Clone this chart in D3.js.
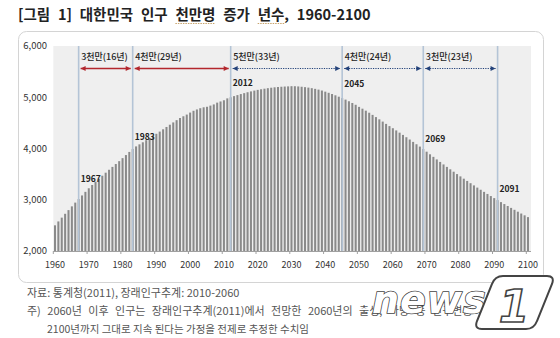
<!DOCTYPE html>
<html>
<head>
<meta charset="utf-8">
<script src="https://cdn.jsdelivr.net/npm/d3@7"></script>
<style>
  html, body { margin: 0; padding: 0; background: #fff; }
  svg { display: block; }
</style>
</head>
<body>
<svg id="chart" width="560" height="338"></svg>
<script>
// Population of Korea, 1960-2100 (unit: 10,000 persons)
const years = d3.range(1960, 2101);
const population = [
  2501, 2577, 2651, 2726, 2798, 2871, 2944, 3013, 3084, 3154,
  3224, 3288, 3351, 3410, 3469, 3528, 3585, 3641, 3697, 3753,
  3812, 3872, 3933, 3991, 4041, 4081, 4121, 4162, 4203, 4245,
  4287, 4330, 4375, 4420, 4464, 4509, 4553, 4595, 4629, 4662,
  4701, 4736, 4762, 4786, 4804, 4814, 4837, 4860, 4895, 4918,
  4941, 4978, 5000, 5022, 5042, 5062, 5080, 5098, 5114, 5130,
  5144, 5156, 5167, 5177, 5186, 5194, 5200, 5205, 5209, 5212,
  5216, 5215, 5211, 5205, 5197, 5188, 5177, 5164, 5149, 5131,
  5109, 5087, 5063, 5038, 5011, 4983, 4954, 4922, 4888, 4853,
  4812, 4777, 4738, 4698, 4656, 4613, 4569, 4525, 4480, 4437,
  4396, 4353, 4309, 4265, 4220, 4175, 4129, 4083, 4037, 3990,
  3938, 3887, 3837, 3787, 3738, 3689, 3641, 3594, 3547, 3501,
  3456, 3411, 3367, 3323, 3280, 3237, 3195, 3154, 3113, 3072,
  3032, 2993, 2954, 2916, 2878, 2841, 2804, 2767, 2731, 2696,
  2661
];

// Years at which the population crosses each ten-million mark
const markerYears = [1967, 1983, 2012, 2045, 2069, 2091];
// Periods spent in each ten-million band
const periodLabels = ["3천만(16년)", "4천만(29년)", "5천만(33년)", "4천만(24년)", "3천만(23년)"];
const periodGrowing = [true, true, false, false, false];

const yTicks = [2000, 3000, 4000, 5000, 6000];
const xTickYears = d3.range(1960, 2101, 10);

const titleText = "[그림 1] 대한민국 인구 천만명 증가 년수, 1960-2100";
const sourceText = "자료: 통계청(2011), 장래인구추계: 2010-2060";
const noteLines = [
  "주) 2060년 이후 인구는 장래인구추계(2011)에서 전망한 2060년의 출생, 사망 등 인구변동 요인이",
  "2100년까지 그대로 지속 된다는 가정을 전제로 추정한 수치임"
];

const svg = d3.select("#chart");
const KR = "'Noto Sans CJK KR', 'Noto Sans', sans-serif";

const plot = { left: 53.3, right: 531, top: 46, bottom: 251 };

const x = d3.scaleBand()
  .domain(years)
  .range([plot.left, plot.left + 141 * 3.3786])
  .paddingInner(0.4)
  .paddingOuter(0.2);
const y = d3.scaleLinear().domain([2000, 6000]).range([plot.bottom, plot.top]);
const cx = yr => x(yr) + x.bandwidth() / 2;

// Title
const title = svg.append("text")
  .attr("x", 18).attr("y", 20)
  .attr("font-family", KR)
  .attr("font-size", 14.5)
  .attr("font-weight", 700)
  .attr("word-spacing", 4.5)
  .attr("fill", "#222")
  .text(titleText);

// Spell-check style underline under two words of the title
const tNode = title.node();
[["천만명", 3], ["년수", 2]].forEach(([w, len]) => {
  const i = titleText.indexOf(w);
  const x0 = tNode.getStartPositionOfChar(i).x;
  const x1 = tNode.getEndPositionOfChar(i + len - 1).x;
  svg.append("line")
    .attr("x1", x0).attr("x2", x1).attr("y1", 23.5).attr("y2", 23.5)
    .attr("stroke", "#c8a46c").attr("stroke-width", 1)
    .attr("stroke-dasharray", "1.5,1");
});

// Chart frame
svg.append("rect")
  .attr("x", 18.5).attr("y", 31.5).attr("width", 525).attr("height", 251)
  .attr("rx", 8).attr("ry", 8)
  .attr("fill", "#fff").attr("stroke", "#d4d4d4");

// Plot background
svg.append("rect")
  .attr("x", plot.left).attr("y", plot.top)
  .attr("width", plot.right - plot.left).attr("height", plot.bottom - plot.top)
  .attr("fill", "#efefef");

// Bars
svg.append("g").selectAll("rect")
  .data(years)
  .join("rect")
  .attr("x", d => x(d))
  .attr("width", x.bandwidth())
  .attr("y", (d, i) => y(population[i]))
  .attr("height", (d, i) => y(2000) - y(population[i]))
  .attr("fill", "#8a8a8a");

// Marker lines
svg.append("g").selectAll("line")
  .data(markerYears)
  .join("line")
  .attr("x1", d => cx(d)).attr("x2", d => cx(d))
  .attr("y1", plot.top).attr("y2", plot.bottom)
  .attr("stroke", "#b4c4d6").attr("stroke-width", 1.6);

// Y axis labels
svg.append("g").selectAll("text")
  .data(yTicks)
  .join("text")
  .attr("x", 47).attr("y", d => y(d))
  .attr("dy", "0.35em")
  .attr("text-anchor", "end")
  .attr("font-family", KR)
  .attr("font-size", 9.5)
  .attr("fill", "#333")
  .text(d3.format(","));

// X axis
const xAxis = svg.append("g")
  .attr("transform", `translate(0,${plot.bottom})`)
  .call(d3.axisBottom(x).tickValues(xTickYears).tickSize(3).tickSizeOuter(0));
xAxis.select(".domain").attr("stroke", "#a0a0a0").attr("d", `M${plot.left},0.5H${plot.right}`);
xAxis.selectAll(".tick line")
  .attr("stroke", "#a0a0a0")
  .attr("x1", -x.step() / 2).attr("x2", -x.step() / 2);
xAxis.selectAll(".tick text")
  .attr("font-family", KR)
  .attr("font-size", 9)
  .attr("fill", "#333")
  .attr("y", 11);

// Arrowheads
const defs = svg.append("defs");
[["red", "#b3272d"], ["blue", "#23427a"]].forEach(([id, col]) => {
  defs.append("marker")
    .attr("id", "arrow-" + id)
    .attr("viewBox", "0 0 10 10")
    .attr("refX", 10).attr("refY", 5)
    .attr("markerWidth", 6).attr("markerHeight", 5)
    .attr("markerUnits", "userSpaceOnUse")
    .attr("orient", "auto-start-reverse")
    .append("path")
    .attr("d", "M0,0L10,5L0,10z")
    .attr("fill", col);
});

// Period arrows and labels
const arrowY = 68.5;
const periods = periodLabels.map((label, i) => ({
  label, from: markerYears[i], to: markerYears[i + 1], growing: periodGrowing[i]
}));
const pg = svg.append("g");
pg.selectAll("line")
  .data(periods)
  .join("line")
  .attr("x1", d => cx(d.from) + 2).attr("x2", d => cx(d.to) - 2)
  .attr("y1", arrowY).attr("y2", arrowY)
  .attr("stroke", d => d.growing ? "#b3272d" : "#23427a")
  .attr("stroke-width", d => d.growing ? 1.5 : 1.1)
  .attr("stroke-dasharray", d => d.growing ? null : "1.2,1.2")
  .attr("marker-start", d => d.growing ? "url(#arrow-red)" : "url(#arrow-blue)")
  .attr("marker-end", d => d.growing ? "url(#arrow-red)" : "url(#arrow-blue)");
pg.selectAll("text")
  .data(periods)
  .join("text")
  .attr("x", d => cx(d.from) + 2.5)
  .attr("y", 57)
  .attr("dy", "0.35em")
  .attr("font-family", KR)
  .attr("font-size", 9)
  .attr("font-weight", 500)
  .attr("fill", "#222")
  .text(d => d.label);

// Year labels beside the crossing bars
const yearLabelPos = [
  { yr: 1967, dy: -17 },
  { yr: 1983, dy: -9 },
  { yr: 2012, dy: -11 },
  { yr: 2045, dy: -11 },
  { yr: 2069, dy: -7 },
  { yr: 2091, dy: -8 }
];
svg.append("g").selectAll("text")
  .data(yearLabelPos)
  .join("text")
  .attr("x", d => cx(d.yr) + 2)
  .attr("y", d => y(population[d.yr - 1960]) + d.dy)
  .attr("font-family", KR)
  .attr("font-size", 8.5)
  .attr("font-weight", 700)
  .attr("fill", "#222")
  .text(d => d.yr);

// Source and notes
const notes = svg.append("g")
  .attr("font-family", KR)
  .attr("font-size", 11)
  .attr("fill", "#555");
notes.append("text").attr("x", 27).attr("y", 297).text(sourceText);
notes.append("text").attr("x", 27).attr("y", 315).attr("word-spacing", 4).text(noteLines[0]);
notes.append("text").attr("x", 47).attr("y", 333).attr("font-size", 10.5).text(noteLines[1]);

// news1 watermark
const logo = svg.append("g");
logo.append("text")
  .attr("x", 372).attr("y", 313)
  .attr("font-family", "'DejaVu Sans', sans-serif")
  .attr("font-size", 38)
  .attr("font-weight", 700)
  .attr("font-style", "italic")
  .attr("letter-spacing", 1)
  .attr("fill", "#fff")
  .attr("stroke", "#444")
  .attr("stroke-width", 1.6)
  .attr("paint-order", "stroke")
  .text("news");
logo.append("path")
  .attr("d", "M503,276 L547,276 Q555,276 552,284 L537,321 Q534,329 526,329 L482,329 Q474,329 477,321 L492,284 Q495,276 503,276 Z")
  .attr("fill", "#fff")
  .attr("stroke", "#444")
  .attr("stroke-width", 2);
logo.append("text")
  .attr("x", 514).attr("y", 322)
  .attr("text-anchor", "middle")
  .attr("font-family", "'DejaVu Sans', sans-serif")
  .attr("font-size", 44)
  .attr("font-weight", 700)
  .attr("font-style", "italic")
  .attr("fill", "#fff")
  .attr("stroke", "#444")
  .attr("stroke-width", 1.6)
  .text("1");
</script>
</body>
</html>
